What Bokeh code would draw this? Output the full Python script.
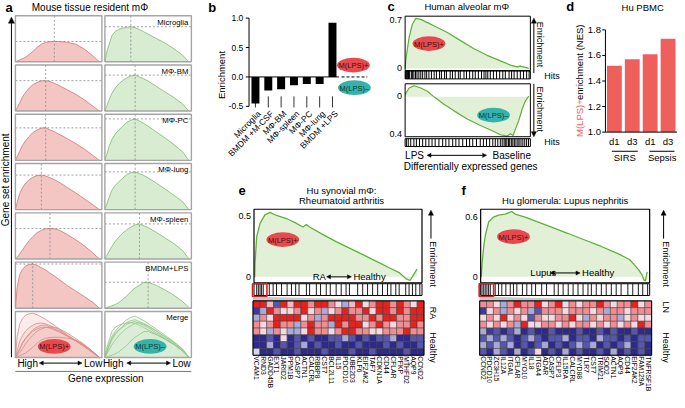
import math
from bokeh.plotting import figure
from bokeh.models import Range1d, Arrow, NormalHead, ColumnDataSource
from bokeh.embed import file_html
from bokeh.resources import INLINE
from bokeh.core.properties import value
from bokeh.transform import linear_cmap

# ---------------- data: panel a ----------------
a_title = "Mouse tissue resident mΦ"
a_rank = [0, .02, .05, .08, .12, .16, .2, .25, .3, .35, .4, .45, .5, .6, .7, .8, .9, .97]
a_cell_labels = ["Microglia", "MΦ-BM", "MΦ-PC", "MΦ-lung", "MΦ-spleen", "BMDM+LPS", "Merge"]
a_pos_microglia = [0, .015, .04, .065, .10, .16, .22, .31, .38, .42, .435, .44, .44, .42, .38, .27, .12, 0]
a_pos_bm = [0, .07, .18, .30, .41, .50, .57, .62, .655, .66, .64, .60, .56, .46, .36, .24, .10, 0]
a_pos_pc = [0, .08, .20, .32, .43, .52, .60, .66, .70, .705, .66, .62, .57, .47, .36, .24, .10, 0]
a_pos_lung = [0, .15, .35, .47, .58, .65, .70, .74, .75, .73, .69, .65, .60, .48, .36, .23, .10, 0]
a_pos_spleen = [0, .04, .11, .19, .30, .40, .48, .57, .62, .655, .66, .655, .63, .53, .41, .28, .12, 0]
a_pos_bmdmlps = [0, .45, .73, .84, .92, .95, .96, .93, .88, .83, .76, .70, .63, .49, .37, .25, .12, 0]
a_neg_microglia = [0, .20, .38, .56, .66, .70, .73, .745, .76, .74, .70, .65, .60, .50, .40, .28, .14, 0]
a_neg_bm = [0, .10, .25, .38, .50, .59, .65, .72, .76, .78, .74, .70, .65, .53, .41, .29, .15, 0]
a_neg_pc = [0, .12, .30, .45, .57, .66, .73, .82, .87, .90, .85, .80, .74, .61, .48, .34, .18, 0]
a_neg_lung = [0, .11, .27, .42, .53, .60, .67, .76, .80, .82, .78, .74, .69, .57, .44, .31, .17, 0]
a_neg_spleen = [0, .07, .17, .27, .38, .47, .55, .63, .69, .74, .76, .72, .68, .57, .45, .33, .18, 0]
a_neg_bmdmlps = [0, .01, .03, .05, .08, .12, .18, .26, .36, .44, .50, .56, .565, .49, .39, .28, .14, .02]

# ---------------- data: panel b ----------------
b_labels = ["Microglia", "BMDM +M-CSF", "MΦ-BM", "MΦ-spleen", "MΦ-PC", "MΦ-lung", "BMDM +LPS"]
b_values = [-0.45, -0.23, -0.21, -0.14, -0.12, -0.12, 0.92]
b_ticks = [-0.5, 0.0, 0.5, 1.0]
b_tick_labels = ["-0.5", "0.0", "0.5", "1.0"]

# ---------------- data: panel c ----------------
c_up_rank = [0.0, 0.005, 0.032, 0.058, 0.085, 0.125, 0.178, 0.257, 0.337, 0.443, 0.549, 0.655, 0.761, 0.841, 0.894, 0.92, 0.96, 0.987]
c_up_score = [0.0, 0.117, 0.444, 0.631, 0.715, 0.70, 0.654, 0.584, 0.514, 0.397, 0.28, 0.187, 0.107, 0.047, 0.023, 0.033, 0.014, 0.0]
c_dn_rank = [0, 0.032, 0.072, 0.125, 0.178, 0.231, 0.31, 0.39, 0.496, 0.602, 0.708, 0.761, 0.814, 0.841, 0.862, 0.881, 0.907, 0.934, 0.96, 0.987]
c_dn_score = [0.024, 0.093, 0.117, 0.093, 0.059, 0.0, -0.079, -0.148, -0.234, -0.303, -0.366, -0.40, -0.414, -0.39, -0.407, -0.338, -0.252, -0.131, -0.045, 0.007]
c_up_hits = [0.004, 0.012, 0.02, 0.027, 0.036, 0.05, 0.058, 0.07, 0.083, 0.095, 0.11, 0.125, 0.14, 0.158, 0.172,
             0.19, 0.21, 0.232, 0.25, 0.275, 0.29, 0.315, 0.33, 0.36, 0.378, 0.4, 0.425, 0.44, 0.47, 0.49, 0.515,
             0.54, 0.56, 0.585, 0.61, 0.63, 0.645, 0.66, 0.68, 0.705, 0.73, 0.755, 0.78, 0.8, 0.83, 0.85, 0.87,
             0.895, 0.92, 0.945, 0.97, 0.99]
c_dn_hits = [0.01, 0.025, 0.045, 0.07, 0.09, 0.115, 0.14, 0.165, 0.19, 0.215, 0.24, 0.27, 0.3, 0.325, 0.35, 0.38,
             0.405, 0.43, 0.46, 0.49, 0.515, 0.54, 0.57, 0.6, 0.625, 0.65, 0.675, 0.7, 0.72, 0.74, 0.76, 0.775,
             0.79, 0.8, 0.812, 0.825, 0.835, 0.848, 0.86, 0.872, 0.885, 0.9, 0.91, 0.925, 0.94, 0.955, 0.97, 0.985]

# ---------------- data: panel d ----------------
d_labels = ["d1", "d3", "d1", "d3"]
d_values = [1.52, 1.57, 1.61, 1.73]
d_groups = ["SIRS", "Sepsis"]
d_ticks = [1.0, 1.2, 1.4, 1.6, 1.8]

# ---------------- data: panel e ----------------
e_rank = [0.004, 0.006, 0.016, 0.036, 0.065, 0.095, 0.134, 0.193, 0.253, 0.29, 0.312, 0.331, 0.408, 0.489, 0.568,
          0.645, 0.726, 0.805, 0.864, 0.905, 0.929, 0.953, 0.97]
e_score = [0.0, 0.11, 0.33, 0.44, 0.51, 0.53, 0.505, 0.48, 0.44, 0.41, 0.43, 0.41, 0.35, 0.29, 0.236, 0.185, 0.13,
           0.075, 0.035, -0.016, -0.03, 0.024, 0.065]
e_hits = [0.016, 0.026, 0.036, 0.045, 0.055, 0.091, 0.114, 0.134, 0.164, 0.197, 0.223, 0.248, 0.268, 0.312, 0.331,
          0.371, 0.396, 0.43, 0.454, 0.489, 0.519, 0.548, 0.568, 0.617, 0.647, 0.676, 0.706, 0.736, 0.765, 0.795,
          0.815, 0.844, 0.864, 0.903, 0.923, 0.943, 0.963, 0.987]
e_genes = ["VCAM1", "RND3", "GADD45B", "EXT1", "JARID2", "PPM1B", "CASP7", "ACTN1", "CALCRL", "RBBP8", "CST7",
           "BCL2L11", "IL15", "PDCD10", "UBE2D3", "KLF6", "EIF2AK2", "TAF7", "CDKN1A", "CD44", "CFLAR", "PFKP",
           "MTHFD2", "AQP9", "CCND2"]
e_heat = [
    [2, 2, 0.6, -1.3, 2, 0.6, 2, 2, 1.1, 2, 2, 1.1, 0.5, -0.4, 0.6, 2, 0.5, 1.1, 2, 2, 1.1, 2, 1.1, 0.5, 2],
    [-1.6, -0.5, 2, 1.1, 0.5, 0.4, 1.1, 2, 0.4, 1.1, -0.4, 0.5, 1.1, 2, 1.1, 1.1, 2, 0.4, 2, 2, 1.1, 2, 1.1, 2, 2],
    [-0.5, 1.1, 0.4, 2, 2, 2, 2, 0.4, 1.1, -0.5, 1.1, 2, 2, 2, 2, 1.1, 1.1, 2, 1.1, 2, 2, 1.1, 1.1, 2, 2],
    [1.1, 0.4, 1.1, 2, 1.1, 1.1, -0.5, 1.1, 2, 1.1, 1.1, -0.5, 2, 1.1, 2, 2, 0.4, 1.1, 2, 1.1, 0.4, 1.1, 1.1, 2, 1.1],
    [1.1, 0.4, -0.5, 1.1, 0.4, -0.5, -0.6, 0.4, 2, 1.1, 1.1, 0.4, 1.1, 2, 2, 1.1, 1.1, 0.4, 0.4, 1.1, 1.1, 1.1, 2, 1.1, 1.1],
    [-2, -2, -1.2, -2, 0.4, -2, -1.2, -2, -1.2, -2, -2, -1.2, -1.2, -0.6, -1.2, -2, -1.2, -2, -1.2, -1.2, -0.6, -2, -2, -1.2, -1.2],
    [-2, -2, -0.6, -2, -1.2, -2, -1.2, -0.6, -2, -1.2, -2, -2, -1.2, -2, -2, -1.2, -2, -2, -2, -1.2, -2, -1.2, -2, -2, -1.2],
    [0.0, -2, -2, -1.2, -2, -2, -1.2, -2, -2, -2, -1.2, -2, -2, -2, -1.2, -2, -2, -1.2, -2, -2, -2, -2, -1.2, -2, -2],
]

# ---------------- data: panel f ----------------
f_rank = [0.003, 0.008, 0.018, 0.028, 0.047, 0.076, 0.106, 0.145, 0.184, 0.204, 0.263, 0.341, 0.419, 0.518, 0.616,
          0.714, 0.812, 0.881, 0.91, 0.935, 0.955, 0.965, 0.975, 0.985]
f_score = [0.0, 0.125, 0.305, 0.42, 0.55, 0.60, 0.62, 0.63, 0.656, 0.63, 0.60, 0.55, 0.50, 0.435, 0.37, 0.305, 0.233,
           0.174, 0.12, 0.07, 0.02, -0.03, -0.04, 0.05]
f_hits = [0.008, 0.018, 0.027, 0.037, 0.047, 0.057, 0.086, 0.106, 0.125, 0.149, 0.175, 0.194, 0.214, 0.247, 0.273,
          0.302, 0.325, 0.361, 0.39, 0.435, 0.459, 0.488, 0.518, 0.547, 0.576, 0.606, 0.635, 0.655, 0.684, 0.714,
          0.743, 0.773, 0.802, 0.831, 0.871, 0.9, 0.933, 0.959, 0.988]
f_genes = ["CCND2", "PDCD10", "ZC3H15", "IL12A", "ITGAL", "CFLAR", "MYO10", "IL18", "ITGA4", "ADAR", "CASP7",
           "CFLP3", "IL15RA", "CALCRL", "MYD88", "TLR7", "CST7", "TRIM21", "SOD2", "ACTN1", "AQP9", "CD44",
           "EIF2AK2", "FAM129A", "TNFRSF1B"]
f_heat = [
    [1.1, 1.1, 0.4, -0.3, 1.1, 2, 1.1, 1.1, 2, 0.4, 1.1, 2, 0.4, 1.1, 0.4, 1.1, 1.1, 2, 1.1, 0.4, 1.1, 1.1, 2, 0.4, 1.1],
    [-1.6, 0.4, 1.1, -0.4, 1.1, 0.4, 1.1, -0.5, -1.2, 1.1, 1.1, 1.1, 0.4, 1.1, 1.1, 1.1, 0.4, 1.1, -0.4, 1.1, 1.1, 0.4, 1.1, 1.1, 1.1],
    [0.4, 1.1, 0.4, 2, 0.4, 1.1, 0.4, -1.2, 1.1, 0.4, 0.4, 1.1, 1.1, 2, 0.4, -0.4, 1.1, 0.4, 1.1, 1.1, -0.5, 0.4, 1.1, 0.4, 0.4],
    [1.1, 0.4, 1.1, 0.4, 1.1, -0.4, 2, 0.4, 0.4, 1.1, 1.1, 0.4, 1.1, 0.4, 1.1, 1.1, 0.4, 1.1, 0.4, 1.1, 0.4, 1.1, 0.4, 2, 1.1],
    [-0.5, -1.6, -1.2, -2, -1.2, -0.5, -2, -1.2, -2, -2, -1.2, -2, -2, -2, -1.2, -2, -2, -1.2, -2, -1.2, -2, -2, -1.2, -2, -2],
    [-1.2, -0.5, -1.2, -0.5, -1.2, -2, -1.2, -0.5, -1.2, -2, -1.2, -1.2, -0.5, -2, -1.2, -1.2, -2, -0.5, -1.2, -1.2, -2, -1.2, -2, -1.2, -1.2],
    [-0.5, -1.2, -0.5, -1.2, -0.6, -2, -1.2, -2, -1.2, -0.5, -2, -1.2, -2, -1.2, -0.5, -1.2, -0.5, -2, -1.2, -2, -1.2, -0.5, -2, -1.2, -2],
    [-1.2, -2, -0.5, -1.2, -2, -0.5, -2, -1.2, 0.4, -2, -1.2, -2, -0.5, -2, -1.2, -2, -2, -1.2, -2, -0.5, -2, -1.2, -2, -1.2, -2],
]

# ---------------- styles ----------------
FONT = "Liberation Sans"
PINK_FILL, PINK_LINE = "#f3c6c4", "#d98b88"
GREEN_FILL, GREEN_LINE = "#d7ecd0", "#93c785"
GSEA_FILL, GSEA_LINE = "#e2f0d8", "#5fb03a"
RED_ELL, TEAL_ELL = "#e9484c", "#35b2ab"
BAR_D = "#ef5f5c"
HEAT = ["#2e2a8c", "#3e3b9c", "#5656ad", "#7a7bc2", "#a9aad8", "#d6d6ec", "#f6d8e0", "#f5b8be", "#f08d92",
        "#ea5a5c", "#e3231f"]

p = figure(width=677, height=392, x_range=Range1d(4, 685), y_range=Range1d(404, 4),
           output_backend="svg", toolbar_location=None, min_border=0,
           x_axis_type=None, y_axis_type=None)
p.grid.visible = False
p.outline_line_color = None
p.background_fill_color = "white"
p.border_fill_color = "white"


def sty(size, align="center", base="middle", color="black", bold=False):
    return dict(text_font=value(FONT), text_font_size=f"{size}px", text_align=align, text_baseline=base,
                text_color=color, text_font_style="bold" if bold else "normal")


def txt(x, y, s, size=9, align="center", base="middle", angle=0, color="black", bold=False):
    p.text(x=[x], y=[y], text=[s], angle=angle, **sty(size, align, base, color, bold))


def arrow(x0, y0, x1, y1, both=False, size=5):
    head = lambda: NormalHead(size=size, fill_color="black", line_color="black", line_width=0.5)
    p.add_layout(Arrow(x_start=x0, y_start=y0, x_end=x1, y_end=y1, line_width=1, line_color="black",
                       end=head(), start=head() if both else None))


def box(l, r, t, b, color="black", width=1.0):
    p.quad(left=[l], right=[r], top=[t], bottom=[b], fill_color=None, line_color=color, line_width=width)


def ellipse(x, y, label, color):
    p.ellipse(x=[x], y=[y], width=33, height=15, fill_color=color, line_color=None)
    txt(x, y + 0.5, label, size=7.5, color="#3a1212" if color == RED_ELL else "#0f3533")


def sub(xs, ys, xt, yt):
    return p.subplot(x_source=Range1d(*xs), y_source=Range1d(*ys), x_target=Range1d(*xt), y_target=Range1d(*yt))


HALF = math.pi / 2

# ================= panel a =================
txt(9, 11, "a", size=13, align="left", bold=True)
txt(94, 11, a_title, size=10)
pos_curves = [a_pos_microglia, a_pos_bm, a_pos_pc, a_pos_lung, a_pos_spleen, a_pos_bmdmlps]
neg_curves = [a_neg_microglia, a_neg_bm, a_neg_pc, a_neg_lung, a_neg_spleen, a_neg_bmdmlps]
for r in range(7):
    top = 19.5 + 50.3 * r
    bot = top + 47
    for c in range(2):
        left = 19 + 90 * c
        right = left + 87
        s = sub((0, 1), (0, 1), (left, right), (bot, top))
        fill, line = (PINK_FILL, PINK_LINE) if c == 0 else (GREEN_FILL, GREEN_LINE)
        curves = pos_curves if c == 0 else neg_curves
        if r < 6:
            ys = curves[r]
            s.varea(x=a_rank, y1=0, y2=ys, fill_color=fill)
            s.line(a_rank, ys, line_color=line, line_width=1)
            k = ys.index(max(ys))
            s.segment(x0=[0, a_rank[k]], y0=[ys[k], 0], x1=[1, a_rank[k]], y1=[ys[k], 1],
                      line_color="#8a8a8a", line_dash="2 2", line_width=0.8)
        else:
            for ys in curves:
                s.varea(x=a_rank, y1=0, y2=ys, fill_color=fill, fill_alpha=0.35)
            for ys in curves:
                s.line(a_rank, ys, line_color=line, line_width=0.8)
        box(left, right, top, bot, color="#a5a5a5", width=1.4)
        if c == 1:
            txt(right - 3, top + 6.5, a_cell_labels[r], size=7.8, align="right")
ellipse(58, 357, "M(LPS)+", RED_ELL)
ellipse(154.5, 357, "M(LPS)–", TEAL_ELL)
arrow(15, 368, 15, 21, size=6)
txt(9.5, 187, "Gene set enrichment", size=10, angle=HALF)
txt(21, 374, "High", size=10, align="left")
arrow(43, 374, 86, 374, both=True, size=4)
txt(88, 374, "Low", size=10, align="left")
txt(107, 374, "High", size=10, align="left")
arrow(131, 374, 175, 374, both=True, size=4)
txt(177, 374, "Low", size=10, align="left")
p.segment(x0=[19], y0=[382.5], x1=[196], y1=[382.5], line_color="#777777", line_width=1)
txt(110, 390, "Gene expression", size=10)

# ================= panel b =================
txt(217, 11, "b", size=13, bold=True)
txt(226, 80, "Enrichment", size=9.5, angle=HALF)
sb = sub((-0.5, 6.5), (-0.5, 1.0), (254, 344.4), (112, 22))
b_idx = list(range(len(b_values)))
sb.vbar(x=b_idx, top=b_values, bottom=0, width=0.62, fill_color="black", line_color=None)
sb.segment(x0=[-0.5], y0=[-0.5], x1=[-0.5], y1=[1.0], line_color="black", line_width=1)
sb.segment(x0=[-0.5] * len(b_ticks), y0=b_ticks, x1=[-0.75] * len(b_ticks), y1=b_ticks,
           line_color="black", line_width=1)
sb.segment(x0=[-0.5], y0=[0], x1=[6.5], y1=[0], line_color="black", line_width=1)
sb.segment(x0=b_idx, y0=[-0.52] * 7, x1=b_idx, y1=[-0.33] * 7, line_color="black", line_width=0.8)
sb.text(x=[-0.95] * len(b_ticks), y=b_ticks, text=b_tick_labels, **sty(8.5, align="right"))
sb.text(x=[i + 0.3 for i in b_idx], y=[-0.6] * 7, text=b_labels, angle=math.pi / 4, **sty(8.5, align="right"))
ellipse(359, 70, "M(LPS)+", RED_ELL)
p.segment(x0=[347], y0=[82], x1=[373], y1=[82], line_color="black", line_dash="3 2", line_width=1)
ellipse(360, 93, "M(LPS)–", TEAL_ELL)

# ================= panel c =================
txt(397, 10, "c", size=13, bold=True)
txt(473, 10, "Human alveolar mΦ", size=9.5)
scu = sub((0, 1), (0, 0.7), (411, 537), (73.3, 23.3))
scu.varea(x=c_up_rank, y1=0, y2=c_up_score, fill_color=GSEA_FILL)
scu.line(c_up_rank, c_up_score, line_color=GSEA_LINE, line_width=1.2)
box(411, 537, 20, 75.5)
shu = sub((0, 1), (0, 1), (411, 537), (84, 76))
shu.segment(x0=c_up_hits, y0=[0] * len(c_up_hits), x1=c_up_hits, y1=[1] * len(c_up_hits),
            line_color="black", line_width=1)
box(411, 537, 76, 84)
scd = sub((0, 1), (0, -0.4), (411, 537), (102.3, 141))
scd.varea(x=c_dn_rank, y1=0, y2=c_dn_score, fill_color=GSEA_FILL)
scd.line(c_dn_rank, c_dn_score, line_color=GSEA_LINE, line_width=1.2)
box(411, 537, 89, 143)
shd = sub((0, 1), (0, 1), (411, 537), (153, 145))
shd.segment(x0=c_dn_hits, y0=[0] * len(c_dn_hits), x1=c_dn_hits, y1=[1] * len(c_dn_hits),
            line_color="black", line_width=1)
box(411, 537, 145, 153)
txt(408, 24, "0.7", size=9, align="right")
txt(408, 73, "0", size=9, align="right")
txt(408, 101, "0", size=9, align="right")
txt(408, 140, "0.4", size=9, align="right")
ellipse(435, 48, "M(LPS)+", RED_ELL)
ellipse(500, 121, "M(LPS)–", TEAL_ELL)
arrow(540.5, 78, 540.5, 22, size=5)
txt(547, 49, "Enrichment", size=9, angle=-HALF)
txt(551, 81, "Hits", size=9, align="left")
arrow(540.5, 89, 540.5, 143, size=5)
txt(547, 115, "Enrichment", size=9, angle=-HALF)
txt(551, 148, "Hits", size=9, align="left")
txt(411, 162, "LPS", size=10, align="left")
arrow(433, 162, 493, 162, both=True, size=4)
txt(499, 162, "Baseline", size=10, align="left")
txt(477, 173, "Differentially expressed genes", size=10)

# ================= panel d =================
txt(577, 10, "d", size=13, bold=True)
txt(650, 11, "Hu PBMC", size=9.5)
sd = sub((-0.5, 3.5), (1.0, 1.8), (612.5, 684.5), (138.3, 34))
d_idx = list(range(len(d_values)))
sd.vbar(x=d_idx, top=d_values, bottom=1.0, width=0.83, fill_color=BAR_D, line_color=None)
sd.segment(x0=[-0.5], y0=[1.0], x1=[-0.5], y1=[1.8], line_color="black", line_width=1)
sd.segment(x0=[-0.5], y0=[1.0], x1=[3.5], y1=[1.0], line_color="black", line_width=1)
sd.segment(x0=[-0.5] * len(d_ticks), y0=d_ticks, x1=[-0.68] * len(d_ticks), y1=d_ticks,
           line_color="black", line_width=1)
sd.text(x=[-0.75] * len(d_ticks), y=d_ticks, text=[f"{t:.1f}" for t in d_ticks], **sty(9.5, align="right"))
sd.text(x=d_idx, y=[0.925] * 4, text=d_labels, **sty(9.5))
sd.segment(x0=[-0.14, 1.97], y0=[0.85, 0.85], x1=[1.31, 3.36], y1=[0.85, 0.85], line_color="black", line_width=1)
sd.text(x=[0.58, 2.67], y=[0.8, 0.8], text=d_groups, **sty(9.5))
txt(586, 124, "M(LPS)+", size=9.5, angle=HALF, color="#ef6464")
txt(586, 67, "enrichment (NES)", size=9.5, angle=HALF)


# ================= panels e, f =================
def gsea_panel(letter, lx, titles, tx, x0, x1, ymax, ytop_px, rank, score, hits, genes, heat,
               ell_xy, cond, cond_x, arrow_x, cond2_x, cy, right_x, row_labels):
    txt(lx, 198, letter, size=13, bold=True)
    for i, t in enumerate(titles):
        txt(tx, 208 - 10 * (len(titles) - 1 - i), t, size=9.5)
    s = sub((0, 1), (0, ymax), (x0, x1), (286, ytop_px))
    s.varea(x=rank, y1=0, y2=score, fill_color=GSEA_FILL)
    s.line(rank, score, line_color=GSEA_LINE, line_width=1.3)
    box(x0, x1, 217, 292, width=1.2)
    txt(x0 - 3, ytop_px, f"{ymax}", size=9, align="right")
    txt(x0 - 3, 286, "0", size=9, align="right")
    ellipse(ell_xy[0], ell_xy[1], "M(LPS)+", RED_ELL)
    txt(cond_x, cy, cond, size=9.5, align="left")
    arrow(arrow_x[0], cy, arrow_x[1], cy, both=True, size=4)
    txt(cond2_x, cy, "Healthy", size=9.5, align="left")
    sh = sub((0, 1), (0, 1), (x0, x1), (305, 293))
    sh.segment(x0=hits, y0=[0] * len(hits), x1=hits, y1=[1] * len(hits), line_color="black", line_width=0.9)
    box(x0, x1, 293, 305)
    box(x0 - 1.5, x0 + 13, 293, 306, color="#d42020", width=1.6)
    p.patch(x=[x0 - 1, x0 + 13, x1 + 1, x0 - 1], y=[306.5, 306.5, 310.5, 310.5], fill_color="#c8c8c8",
            line_color=None)
    hx0, hx1 = x0 - 1, x1 + 2
    sm = sub((-0.5, len(genes) - 0.5), (len(heat) - 0.5, -0.5), (hx0, hx1), (366, 310.5))
    xs, ys, vs = [], [], []
    for r, row in enumerate(heat):
        for c, v in enumerate(row):
            xs.append(c)
            ys.append(r)
            vs.append(v)
    src = ColumnDataSource(dict(x=xs, y=ys, v=vs))
    sm.rect(x="x", y="y", width=1, height=1, source=src, fill_color=linear_cmap("v", HEAT, -2.2, 2.2),
            line_color="#3a3a3a", line_width=0.5)
    box(hx0, hx1, 310.5, 366, width=1)
    sm.text(x=list(range(len(genes))), y=[len(heat) - 0.5 + 0.15] * len(genes), text=genes, angle=-HALF,
            **sty(6.8, align="left"))
    arrow(right_x - 2, 247, right_x - 2, 218, size=5)
    txt(right_x, 273, "Enrichment", size=9, angle=-HALF)
    txt(right_x, row_labels[0][1], row_labels[0][0], size=9, angle=-HALF)
    txt(right_x, row_labels[1][1], row_labels[1][0], size=9, angle=-HALF)


gsea_panel("e", 247, ["Hu synovial mΦ:", "Rheumatoid arthritis"], 347, 259, 428, 0.5, 224,
           e_rank, e_score, e_hits, e_genes, e_heat, (288, 248), "RA", 318, (332, 357), 359, 286, 439,
           [("RA", 323), ("Healthy", 358)])
gsea_panel("f", 470, ["Hu glomerula: Lupus nephritis"], 572, 487, 657, 0.6, 225,
           f_rank, f_score, f_hits, f_genes, f_heat, (520, 245), "Lupus", 537, (557, 587), 589, 282, 673,
           [("LN", 317), ("Healthy", 358)])

open("out.html", "w").write(file_html(p, INLINE))
